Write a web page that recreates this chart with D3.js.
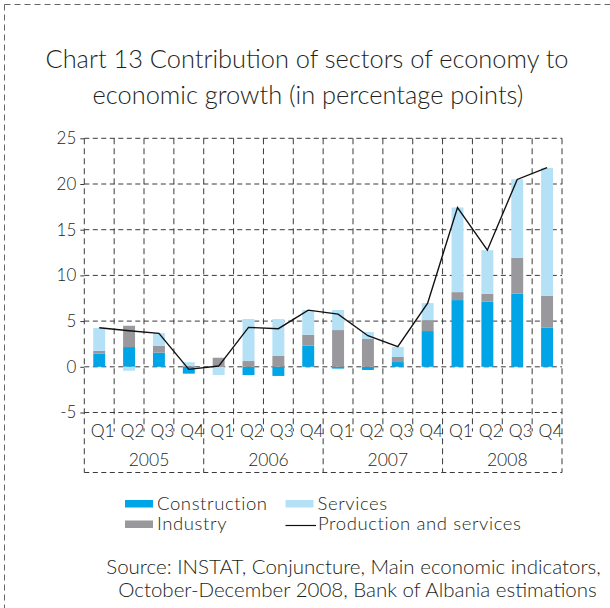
<!DOCTYPE html>
<html>
<head>
<meta charset="utf-8">
<script src="https://cdn.jsdelivr.net/npm/d3@7"></script>
<style>
  html, body { margin: 0; padding: 0; background: #fff; }
  svg { display: block; }
  text { font-family: Lato, "Noto Sans", sans-serif; font-weight: 300; fill: #231f20; }
</style>
</head>
<body>
<svg id="chart" width="610" height="608"></svg>
<script>
// Quarterly contributions (percentage points), 2005 Q1 – 2008 Q4
const years = ["2005", "2006", "2007", "2008"];
const quarters = ["Q1", "Q2", "Q3", "Q4"];
const construction = [1.45, 2.16, 1.55, -0.75, 0.0, -0.9, -1.0, 2.31, -0.2, -0.35, 0.52, 3.91, 7.3, 7.12, 8.0, 4.27];
const industry     = [0.3, 2.33, 0.76, 0.1, 0.99, 0.63, 1.22, 1.2, 4.02, 3.04, 0.55, 1.2, 0.87, 0.88, 3.93, 3.51];
const services     = [2.5, -0.43, 1.38, 0.4, -0.9, 4.6, 4.0, 2.7, 2.2, 0.76, 1.09, 1.86, 9.26, 4.76, 8.59, 13.99];
const production   = [4.27, 3.95, 3.66, -0.28, 0.08, 4.31, 4.17, 6.2, 5.77, 3.4, 2.2, 6.97, 17.43, 12.76, 20.5, 21.8];
const yTicks = [-5, 0, 5, 10, 15, 20, 25];

const seriesKeys = ["construction", "industry", "services"];
const seriesNames = { construction: "Construction", industry: "Industry", services: "Services" };
const colors = { construction: "#00a5e8", industry: "#98989d", services: "#b4e1f6" };

const categories = [];
years.forEach(y => quarters.forEach(q => categories.push(y + " " + q)));
const rows = categories.map((c, i) => ({
  key: c, construction: construction[i], industry: industry[i], services: services[i], production: production[i]
}));

const svg = d3.select("#chart");
const gridColor = "#3a3a3a";
const dash = "5,3.5";

// page frame
svg.append("line").attr("x1", 4.5).attr("x2", 610).attr("y1", 4.5).attr("y2", 4.5)
  .attr("stroke", "#666").attr("stroke-dasharray", "6,4");
svg.append("line").attr("x1", 4.5).attr("x2", 4.5).attr("y1", 4.5).attr("y2", 608)
  .attr("stroke", "#666").attr("stroke-dasharray", "6,4");

// title
const title = svg.append("text").attr("text-anchor", "middle").style("font-size", "25.4px");
title.append("tspan").attr("x", 307).attr("y", 67.5).text("Chart 13 Contribution of sectors of economy to");
title.append("tspan").attr("x", 308).attr("y", 103.5).text("economic growth (in percentage points)");

const plot = { left: 84.3, right: 562, top: 138.3, bottom: 412.5 };
const x = d3.scaleBand().domain(categories).range([plot.left, plot.right]).padding(0);
const y = d3.scaleLinear().domain([-5, 25]).range([plot.bottom, plot.top]);
const bw = x.bandwidth();
const barW = bw * 0.4;
const labelBottom = 472.5;

// horizontal grid
svg.append("g").selectAll("line").data(yTicks).join("line")
  .attr("x1", plot.left).attr("x2", plot.right)
  .attr("y1", d => y(d)).attr("y2", d => y(d))
  .attr("stroke", gridColor).attr("stroke-dasharray", dash);

// vertical grid at category boundaries (plot area and label rows)
const bounds = d3.range(categories.length + 1);
svg.append("g").selectAll("line").data(bounds).join("line")
  .attr("x1", i => plot.left + i * bw).attr("x2", i => plot.left + i * bw)
  .attr("y1", plot.top)
  .attr("y2", i => (i % 4 === 0 ? labelBottom : plot.bottom + 19))
  .attr("stroke", gridColor).attr("stroke-dasharray", "6,4");
svg.append("line").attr("x1", plot.left).attr("x2", plot.right)
  .attr("y1", labelBottom).attr("y2", labelBottom)
  .attr("stroke", gridColor).attr("stroke-dasharray", dash);

// y axis ticks and labels
const yAxis = d3.axisLeft(y).tickValues(yTicks).tickSize(4).tickPadding(4)
  .tickFormat(d => String(d));
const ya = svg.append("g").attr("transform", `translate(${plot.left},0)`).call(yAxis);
ya.select(".domain").remove();
ya.selectAll(".tick line").attr("stroke", gridColor);
ya.selectAll(".tick text").style("font-size", "17px").attr("fill", "#231f20")
  .style("font-family", "Lato, 'Noto Sans', sans-serif").style("font-weight", 300);

// stacked bars, negatives stacked below zero
const stack = d3.stack().keys(seriesKeys).offset(d3.stackOffsetDiverging);
const layers = stack(rows);
svg.append("g").selectAll("g").data(layers).join("g")
  .attr("fill", d => colors[d.key])
  .selectAll("rect").data(d => d).join("rect")
  .attr("x", d => x(d.data.key) + (bw - barW) / 2)
  .attr("width", barW)
  .attr("y", d => y(Math.max(d[0], d[1])))
  .attr("height", d => Math.abs(y(d[0]) - y(d[1])));

// total line
const line = d3.line().x(d => x(d.key) + bw / 2).y(d => y(d.production));
svg.append("path").datum(rows).attr("d", line)
  .attr("fill", "none").attr("stroke", "#111").attr("stroke-width", 1.4);

// quarter and year labels
svg.append("g").selectAll("text").data(rows).join("text")
  .attr("x", d => x(d.key) + bw / 2 + 3.5).attr("y", 436.5)
  .attr("text-anchor", "middle").style("font-size", "17.5px")
  .text(d => d.key.split(" ")[1]);
svg.append("g").selectAll("text").data(years).join("text")
  .attr("x", (d, i) => plot.left + (i * 4 + 2) * bw + 5).attr("y", 465.5)
  .attr("text-anchor", "middle").style("font-size", "17.5px")
  .text(d => d);

// legend
const legend = svg.append("g").style("font-size", "18.5px").style("letter-spacing", "0.6px");
const legendItems = [
  { key: "construction", x: 125, y: 500 },
  { key: "industry", x: 125, y: 520.5 },
  { key: "services", x: 285.5, y: 500 }
];
legendItems.forEach(it => {
  legend.append("rect").attr("x", it.x).attr("y", it.y).attr("width", 28).attr("height", 7.5)
    .attr("fill", colors[it.key]);
  legend.append("text").attr("x", it.x + 32).attr("y", it.y + 9.5).text(seriesNames[it.key]);
});
legend.append("line").attr("x1", 285.5).attr("x2", 316).attr("y1", 525.5).attr("y2", 525.5)
  .attr("stroke", "#111").attr("stroke-width", 1.2);
legend.append("text").attr("x", 318).attr("y", 530).text("Production and services");

// source note
const src = svg.append("text").attr("text-anchor", "middle").style("font-size", "20.5px");
src.append("tspan").attr("x", 353.5).attr("y", 574).text("Source: INSTAT, Conjuncture, Main economic indicators,");
src.append("tspan").attr("x", 357.5).attr("y", 596.5).text("October-December 2008, Bank of Albania estimations");
</script>
</body>
</html>
